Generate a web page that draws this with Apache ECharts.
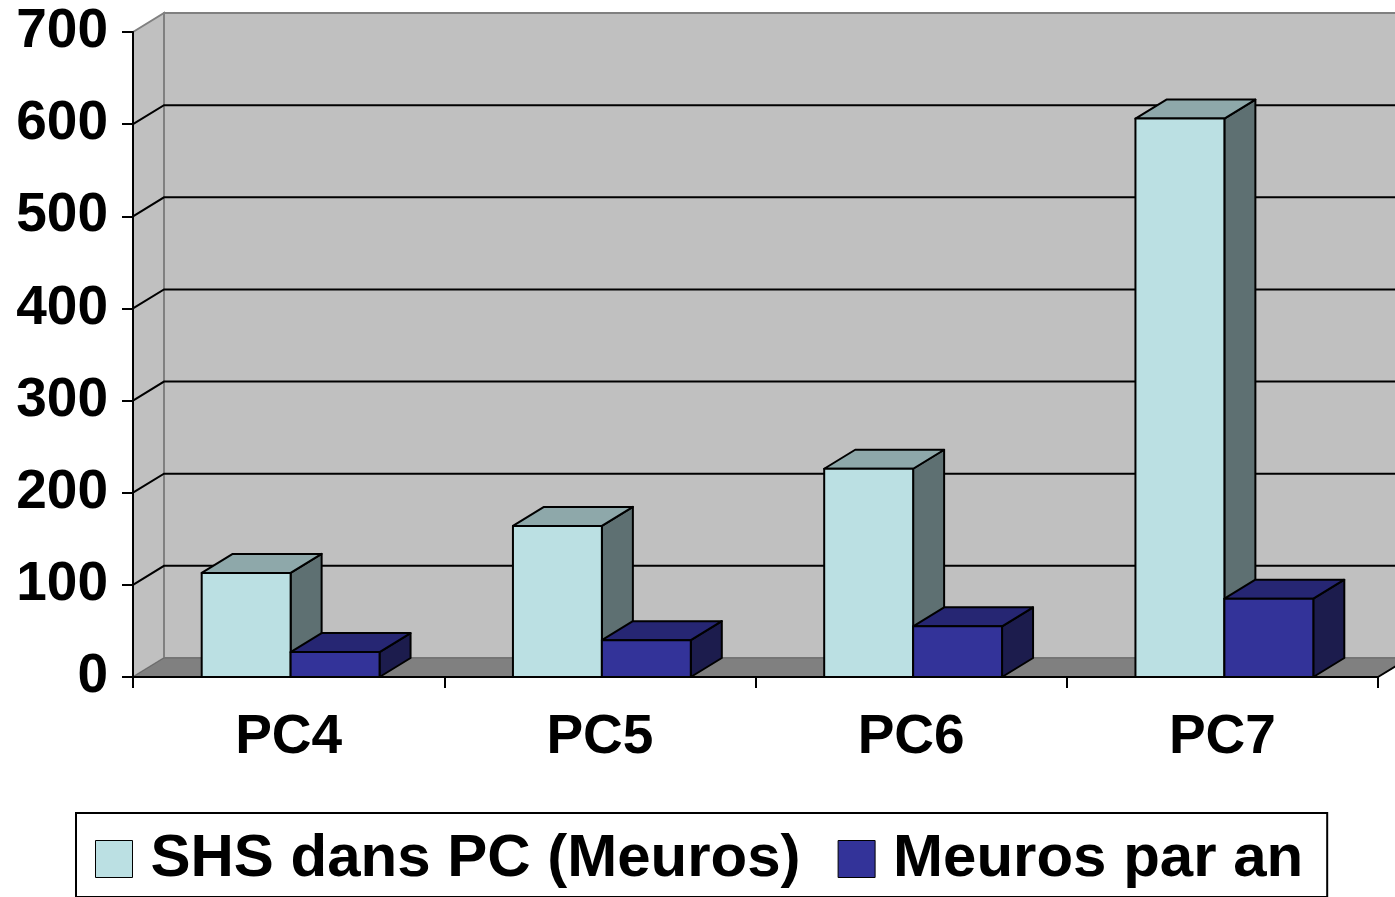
<!DOCTYPE html>
<html>
<head>
<meta charset="utf-8">
<script src="https://cdn.jsdelivr.net/npm/echarts@6/dist/echarts.min.js"></script>
<style>
  html, body { margin: 0; padding: 0; background: #fff; }
  #chart { width: 1395px; height: 897px; }
</style>
</head>
<body>
<div id="chart"></div>
<script>
const categories = ['PC4', 'PC5', 'PC6', 'PC7'];
const shsValues = [113, 164, 226, 606];
const perYearValues = [27, 40, 55, 85];
const yTicks = [0, 100, 200, 300, 400, 500, 600, 700];
const seriesNames = ['SHS dans PC (Meuros)', 'Meuros par an'];

// depth of the fake 3d box
const DX = 31, DY = -19;
const FONT = '"Liberation Sans", Arial, sans-serif';

const lightColors = { front: '#bbe0e3', top: '#8ea8aa', side: '#5e7072' };
const darkColors = { front: '#333399', top: '#262673', side: '#1c1c4d' };

function renderWalls(params, api) {
  const cs = params.coordSys;
  const x0 = cs.x, x1 = cs.x + cs.width;
  const yTop = api.coord([0, yTicks[yTicks.length - 1]])[1];
  const yBase = api.coord([0, 0])[1];
  const children = [
    {
      type: 'rect',
      shape: { x: x0 + DX, y: yTop + DY, width: x1 - x0, height: yBase - yTop },
      style: { fill: '#c0c0c0', stroke: '#808080', lineWidth: 2 }
    },
    {
      type: 'polygon',
      shape: { points: [[x0, yTop], [x0 + DX, yTop + DY], [x0 + DX, yBase + DY], [x0, yBase]] },
      style: { fill: '#c0c0c0', stroke: '#808080', lineWidth: 2 }
    },
    {
      type: 'polygon',
      shape: { points: [[x0, yBase], [x1, yBase], [x1 + DX, yBase + DY], [x0 + DX, yBase + DY]] },
      style: { fill: '#808080', stroke: '#6a6a6a', lineWidth: 1 }
    },
    {
      type: 'line',
      shape: { x1: x1, y1: yBase, x2: x1 + DX, y2: yBase + DY },
      style: { stroke: '#000', lineWidth: 2 }
    }
  ];
  yTicks.slice(1, -1).forEach(v => {
    const y = api.coord([0, v])[1];
    children.push({
      type: 'polyline',
      shape: { points: [[x0, y], [x0 + DX, y + DY], [x1 + DX, y + DY]] },
      style: { stroke: '#000', lineWidth: 2, fill: null }
    });
  });
  return { type: 'group', children: children };
}

function barRenderer(slot, colors) {
  return function (params, api) {
    const i = api.value(0);
    const top = api.coord([i, api.value(1)]);
    const base = api.coord([i, 0]);
    const band = api.size([1, 0])[0];
    const w = band / 3.5; // gap width 150%
    const xl = base[0] - w + slot * w + 2;
    const xr = xl + w;
    const yt = top[1], yb = base[1];
    const line = { stroke: '#000', lineWidth: 2, lineJoin: 'round' };
    return {
      type: 'group',
      children: [
        {
          type: 'polygon',
          shape: { points: [[xr, yt], [xr + DX, yt + DY], [xr + DX, yb + DY], [xr, yb]] },
          style: Object.assign({ fill: colors.side }, line)
        },
        {
          type: 'polygon',
          shape: { points: [[xl, yt], [xr, yt], [xr + DX, yt + DY], [xl + DX, yt + DY]] },
          style: Object.assign({ fill: colors.top }, line)
        },
        {
          type: 'rect',
          shape: { x: xl, y: yt, width: w, height: yb - yt },
          style: Object.assign({ fill: colors.front }, line)
        }
      ]
    };
  };
}

const chart = echarts.init(document.getElementById('chart'));
chart.setOption({
  animation: false,
  backgroundColor: '#fff',
  grid: { left: 133, right: 17, top: 32, bottom: 220 },
  legend: {
    data: [
      { name: seriesNames[0], itemStyle: { color: lightColors.front, borderColor: '#000', borderWidth: 1 } },
      { name: seriesNames[1], itemStyle: { color: darkColors.front, borderColor: '#000', borderWidth: 1 } }
    ],
    selectedMode: false,
    left: 76,
    top: 813,
    icon: 'rect',
    itemWidth: 37,
    itemHeight: 37,
    itemGap: 37,
    padding: [16, 24, 8, 19],
    borderColor: '#000',
    borderWidth: 2,
    textStyle: {
      fontFamily: FONT, fontWeight: 'bold', fontSize: 60, color: '#000',
      lineHeight: 56, padding: [0, 0, 0, 13]
    }
  },
  xAxis: {
    type: 'category',
    data: categories,
    z: 10,
    axisLine: { lineStyle: { color: '#000', width: 2 } },
    axisTick: { show: true, length: 11, lineStyle: { color: '#000', width: 2 } },
    axisLabel: { fontFamily: FONT, fontWeight: 'bold', fontSize: 55, color: '#000', margin: 33 },
    splitLine: { show: false }
  },
  yAxis: {
    type: 'value',
    min: 0,
    max: 700,
    interval: 100,
    z: 10,
    axisLine: { show: true, lineStyle: { color: '#000', width: 2 } },
    axisTick: { show: true, length: 11, lineStyle: { color: '#000', width: 2 } },
    axisLabel: { fontFamily: FONT, fontWeight: 'bold', fontSize: 55, color: '#000', margin: 25 },
    splitLine: { show: false }
  },
  series: [
    {
      type: 'custom',
      name: 'walls',
      z: 1,
      silent: true,
      renderItem: renderWalls,
      data: [[0, 0]]
    },
    {
      type: 'custom',
      name: seriesNames[0],
      z: 2,
      itemStyle: { color: lightColors.front },
      renderItem: barRenderer(0, lightColors),
      encode: { x: 0, y: 1 },
      data: shsValues.map((v, i) => [i, v])
    },
    {
      type: 'custom',
      name: seriesNames[1],
      z: 3,
      itemStyle: { color: darkColors.front },
      renderItem: barRenderer(1, darkColors),
      encode: { x: 0, y: 1 },
      data: perYearValues.map((v, i) => [i, v])
    }
  ]
});
</script>
</body>
</html>
